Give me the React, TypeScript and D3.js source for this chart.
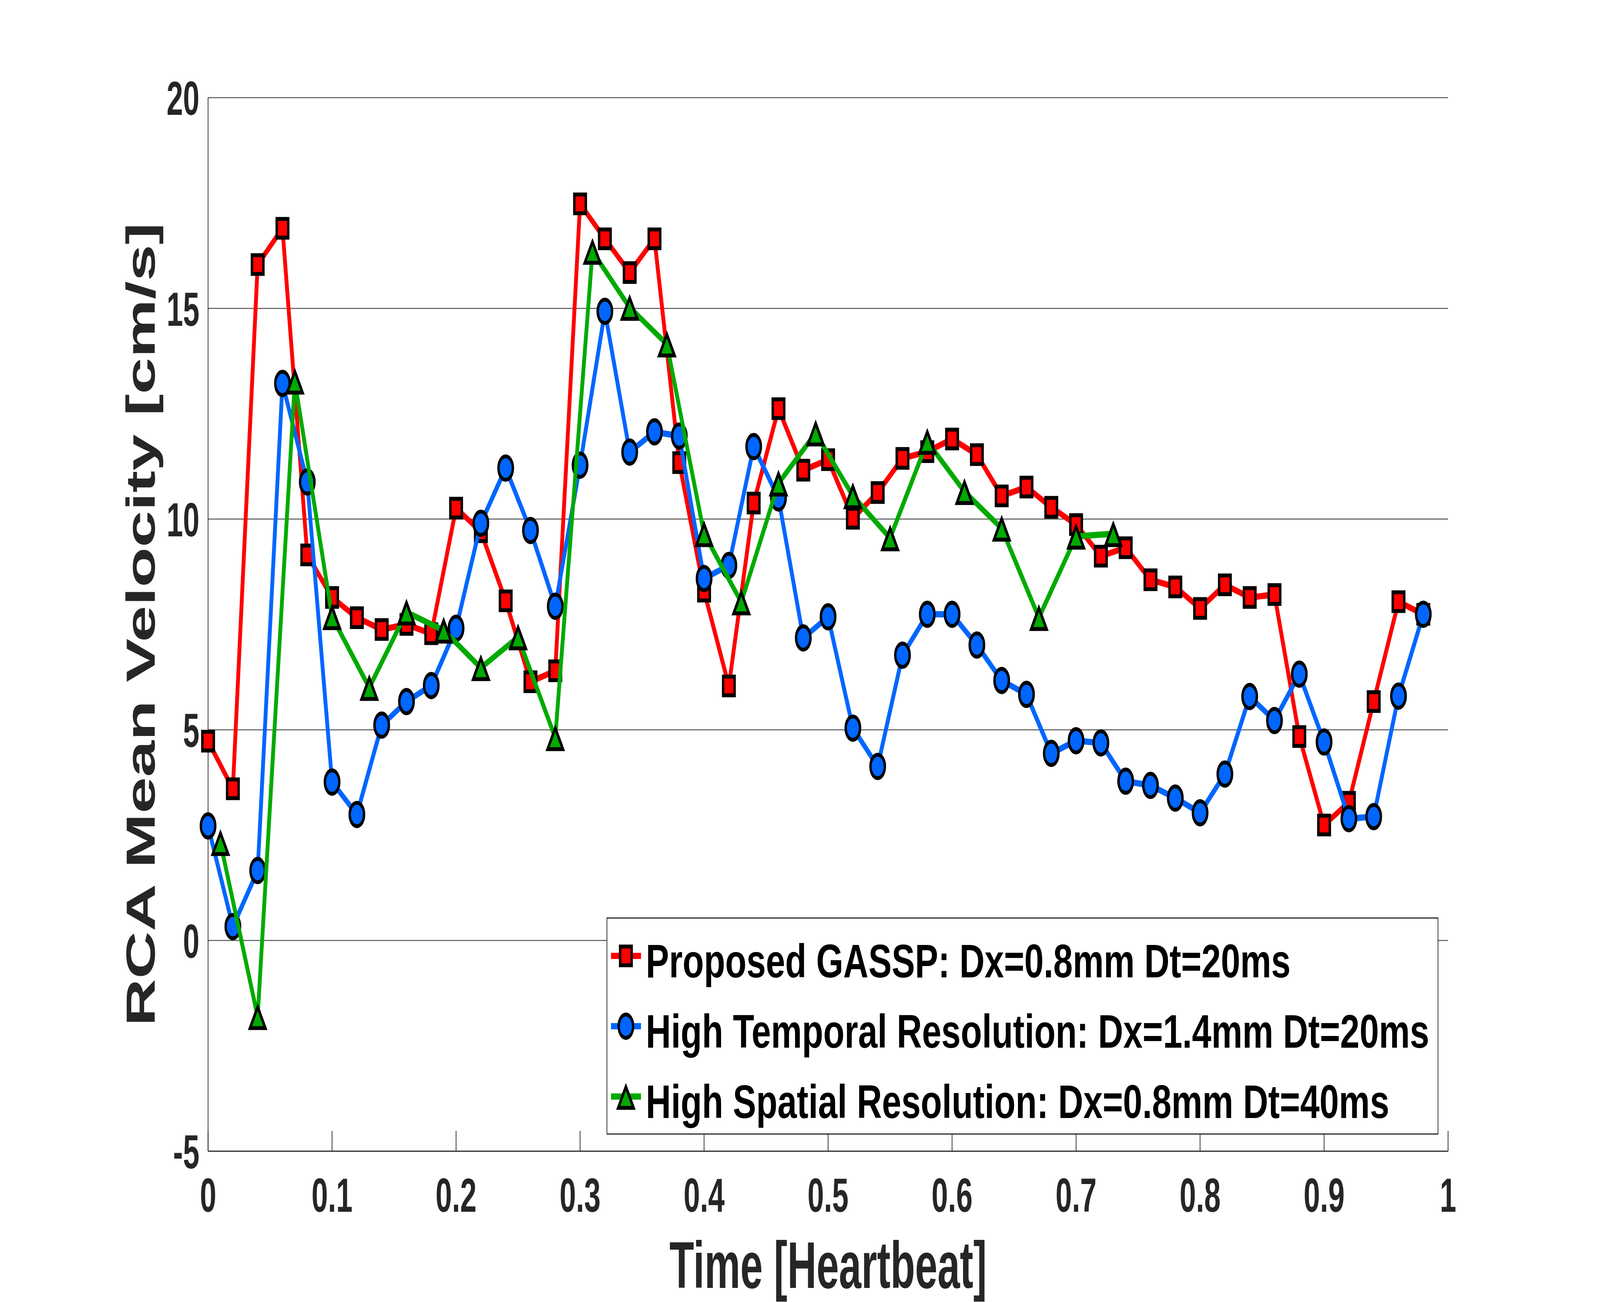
import React, { useEffect } from 'react';
import * as d3 from 'd3';

// time axis (fraction of heartbeat)
const tFine = [
  0, 0.02, 0.04, 0.06, 0.08, 0.1, 0.12, 0.14, 0.16, 0.18,
  0.2, 0.22, 0.24, 0.26, 0.28, 0.3, 0.32, 0.34, 0.36, 0.38,
  0.4, 0.42, 0.44, 0.46, 0.48, 0.5, 0.52, 0.54, 0.56, 0.58,
  0.6, 0.62, 0.64, 0.66, 0.68, 0.7, 0.72, 0.74, 0.76, 0.78,
  0.8, 0.82, 0.84, 0.86, 0.88, 0.9, 0.92, 0.94, 0.96, 0.98,
];
const tCoarse = [
  0.01, 0.04, 0.07, 0.1, 0.13, 0.16, 0.19, 0.22, 0.25, 0.28,
  0.31, 0.34, 0.37, 0.4, 0.43, 0.46, 0.49, 0.52, 0.55, 0.58,
  0.61, 0.64, 0.67, 0.7, 0.73,
];

const gasspValues = [
  4.73, 3.6, 16.04, 16.9, 9.15, 8.14, 7.66, 7.38, 7.5, 7.28,
  10.26, 9.7, 8.06, 6.14, 6.4, 17.48, 16.65, 15.85, 16.65, 11.34,
  8.29, 6.04, 10.38, 12.62, 11.16, 11.41, 10.02, 10.63, 11.44, 11.6,
  11.9, 11.53, 10.55, 10.76, 10.28, 9.87, 9.12, 9.32, 8.56, 8.39,
  7.88, 8.44, 8.14, 8.21, 4.84, 2.74, 3.28, 5.67, 8.04, 7.74,
];
const temporalValues = [
  2.72, 0.33, 1.66, 13.22, 10.88, 3.76, 2.99, 5.11, 5.67, 6.05,
  7.41, 9.9, 11.21, 9.73, 7.93, 11.28, 14.93, 11.59, 12.07, 11.97,
  8.59, 8.9, 11.72, 10.5, 7.18, 7.68, 5.04, 4.13, 6.77, 7.74,
  7.74, 7.01, 6.17, 5.84, 4.44, 4.74, 4.69, 3.78, 3.68, 3.38,
  3.03, 3.95, 5.79, 5.22, 6.32, 4.71, 2.89, 2.94, 5.8, 7.74,
];
const spatialValues = [
  2.32, -1.81, 13.27, 7.68, 6.0, 7.79, 7.36, 6.47, 7.2, 4.81,
  16.35, 15.02, 14.15, 9.65, 8.03, 10.85, 12.04, 10.55, 9.55, 11.84,
  10.65, 9.78, 7.66, 9.59, 9.65,
];

const legendLabels = [
  'Proposed GASSP: Dx=0.8mm Dt=20ms',
  'High Temporal Resolution: Dx=1.4mm Dt=20ms',
  'High Spatial Resolution: Dx=0.8mm Dt=40ms',
];

const xTicks = [0, 0.1, 0.2, 0.3, 0.4, 0.5, 0.6, 0.7, 0.8, 0.9, 1];
const yTicks = [-5, 0, 5, 10, 15, 20];

const W = 6667;
const H = 3333;
const FONT = '"Liberation Sans", Arial, Helvetica, sans-serif';
const AXIS = '#262626';

type Shape = 'square' | 'circle' | 'triangle';

const Marker: React.FC<{ shape: Shape; cx: number; cy: number; fill: string }> = ({ shape, cx, cy, fill }) => {
  if (shape === 'square') {
    return <rect x={cx - 24} y={cy - 24} width={48} height={48} fill={fill} stroke="#000" strokeWidth={10} />;
  }
  if (shape === 'circle') {
    return <circle cx={cx} cy={cy} r={30} fill={fill} stroke="#000" strokeWidth={10} />;
  }
  return (
    <path
      d={`M${cx},${cy - 25}L${cx + 32},${cy + 29}L${cx - 32},${cy + 29}Z`}
      fill={fill}
      stroke="#000"
      strokeWidth={10}
      strokeLinejoin="miter"
    />
  );
};

const App: React.FC = () => {
  useEffect(() => {
    document.body.style.margin = '0';
    document.body.style.overflow = 'hidden';
  }, []);

  const x = d3.scaleLinear().domain([0, 1]).range([867, 6034]);
  const y = d3.scaleLinear().domain([-5, 20]).range([2947, 250]);

  const series = [
    { t: tFine, v: gasspValues, color: '#ff0000', shape: 'square' as Shape },
    { t: tFine, v: temporalValues, color: '#0066ff', shape: 'circle' as Shape },
    { t: tCoarse, v: spatialValues, color: '#00aa00', shape: 'triangle' as Shape },
  ];

  const line = d3.line<[number, number]>()
    .x(d => x(d[0]))
    .y(d => y(d[1]));

  // legend box
  const lg = { x0: 2529, x1: 5992, y0: 2350, y1: 2903 };
  const rowY = [2447, 2627, 2807];

  // the browser viewport is narrower than the figure, so the drawing is fitted into it
  return (
    <svg
      viewBox={`0 0 ${W} ${H}`}
      preserveAspectRatio="none"
      style={{ display: 'block', width: '100vw', height: '100vh' }}
    >
      <rect width={W} height={H} fill="#fff" />

      {/* grid */}
      {yTicks.filter(v => v > -5).map(v => (
        <line key={v} x1={x(0)} x2={x(1)} y1={y(v)} y2={y(v)} stroke="#555" strokeWidth={2.5} />
      ))}

      {/* axes */}
      <line x1={x(0)} x2={x(1)} y1={y(-5)} y2={y(-5)} stroke={AXIS} strokeWidth={3} />
      <line x1={x(0)} x2={x(0)} y1={y(-5)} y2={y(20)} stroke={AXIS} strokeWidth={3} />
      {xTicks.map(t => (
        <line key={t} x1={x(t)} x2={x(t)} y1={y(-5)} y2={y(-5) - 52} stroke={AXIS} strokeWidth={3} />
      ))}

      {/* tick labels */}
      {yTicks.map(v => (
        <text key={v} x={831} y={y(v)} dy="0.36em" textAnchor="end" fontFamily={FONT} fontWeight="bold" fontSize={123} fill={AXIS}>
          {v}
        </text>
      ))}
      {xTicks.map(t => (
        <text key={t} x={x(t)} y={3102} textAnchor="middle" fontFamily={FONT} fontWeight="bold" fontSize={123} fill={AXIS}>
          {d3.format('~g')(t)}
        </text>
      ))}

      {/* axis labels */}
      <text x={(x(0) + x(1)) / 2} y={3297} textAnchor="middle" fontFamily={FONT} fontWeight="bold" fontSize={168} fill={AXIS}>
        Time [Heartbeat]
      </text>
      <text
        transform={`translate(645,${(y(-5) + y(20)) / 2}) rotate(-90)`}
        textAnchor="middle"
        fontFamily={FONT}
        fontWeight="bold"
        fontSize={168}
        fill={AXIS}
      >
        RCA Mean Velocity [cm/s]
      </text>

      {/* series */}
      {series.map((s, i) => {
        const pts = s.t.map((t, j) => [t, s.v[j]] as [number, number]);
        return (
          <g key={i}>
            <path d={line(pts) || ''} fill="none" stroke={s.color} strokeWidth={16} strokeLinejoin="round" />
            {pts.map((p, j) => (
              <Marker key={j} shape={s.shape} cx={x(p[0])} cy={y(p[1])} fill={s.color} />
            ))}
          </g>
        );
      })}

      {/* legend */}
      <rect x={lg.x0} y={lg.y0} width={lg.x1 - lg.x0} height={lg.y1 - lg.y0} fill="#fff" stroke={AXIS} strokeWidth={3} />
      {series.map((s, i) => (
        <g key={i}>
          <line x1={2546} x2={2671} y1={rowY[i]} y2={rowY[i]} stroke={s.color} strokeWidth={16} />
          <Marker shape={s.shape} cx={2608} cy={rowY[i]} fill={s.color} />
          <text
            transform={`translate(2691,${rowY[i] + 55}) scale(1.2,1)`}
            fontFamily={FONT}
            fontWeight="bold"
            fontSize={121}
            fill="#000"
          >
            {legendLabels[i]}
          </text>
        </g>
      ))}
    </svg>
  );
};

export default App;
